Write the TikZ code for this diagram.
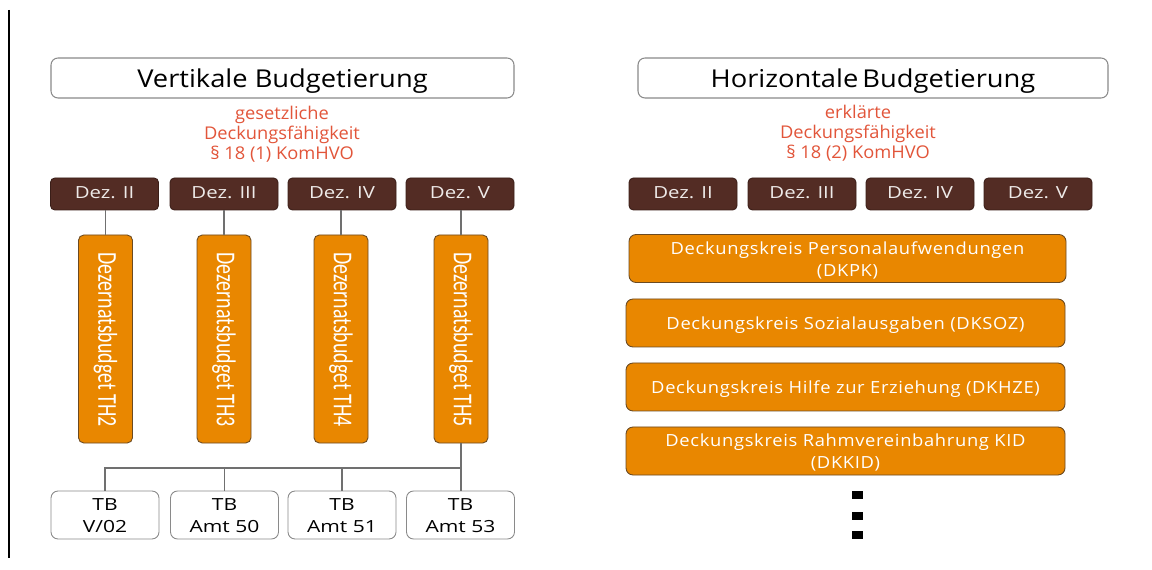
\documentclass[tikz,border=0pt]{standalone}
\usepackage{fontspec}
\setmainfont{Open Sans}
\newfontfamily\narrowfont{Carlito}
\newfontfamily\titlef[FakeStretch=1.11]{Open Sans}
\newfontfamily\redf[FakeStretch=1.04]{Open Sans}
\newfontfamily\dezf[FakeStretch=1.22]{Open Sans}
\newfontfamily\hf[FakeStretch=1.1,LetterSpace=4]{Open Sans}
\newfontfamily\tbf[FakeStretch=1.26]{Open Sans}
\usepackage{graphicx}
\newcommand\lowr[2]{\raisebox{-#1}[\height][\depth]{\begin{tabular}{@{}c@{}}#2\end{tabular}}}
\definecolor{dezbrown}{HTML}{532C24}
\definecolor{dezborder}{HTML}{3A1E18}
\definecolor{dezfont}{HTML}{EEEAE8}
\definecolor{orng}{HTML}{E98700}
\definecolor{orngborder}{HTML}{6B4A22}
\definecolor{redtext}{HTML}{E2553A}
\definecolor{framegray}{HTML}{8A8A8A}
\definecolor{linegray}{HTML}{707070}
\begin{document}
\begin{tikzpicture}[x=0.02cm,y=-0.02cm,
  titlebox/.style={draw=framegray,line width=0.6pt,rounded corners=4pt,fill=white,
    minimum width=#1*0.02cm,minimum height=40*0.02cm,inner sep=0pt,
    font=\titlef\fontsize{14}{16}\selectfont},
  dezbox/.style={draw=dezborder,line width=0.5pt,fill=dezbrown,text=dezfont,rounded corners=2.5pt,
    minimum width=108*0.02cm,minimum height=32*0.02cm,inner sep=0pt,
    font=\dezf\fontsize{9.5}{11}\selectfont},
  vbox/.style={draw=orngborder,line width=0.5pt,fill=orng,rounded corners=3pt,
    minimum width=54*0.02cm,minimum height=208*0.02cm,inner sep=0pt,text=white},
  hbox/.style={draw=orngborder,line width=0.5pt,fill=orng,rounded corners=4pt,text=white,
    minimum width=#1*0.02cm,minimum height=48*0.02cm,inner sep=0pt,
    font=\hf\fontsize{9.5}{12.5}\selectfont},
  tbbox/.style={draw=framegray,line width=0.5pt,fill=white,rounded corners=4pt,
    minimum width=108*0.02cm,minimum height=48*0.02cm,inner sep=0pt,
    font=\tbf\fontsize{9.5}{12.5}\selectfont},
  redlbl/.style={text=redtext,align=center,font=\redf\fontsize{10}{11.3}\selectfont},
  conn/.style={draw=linegray,line width=0.6pt},
  dotbox/.style={fill=black,minimum width=11*0.02cm,minimum height=8*0.02cm,inner sep=0pt}
]
\useasboundingbox[fill=white] (0,0) rectangle (1152,570);
\draw[black,line width=0.7pt] (9,10) -- (9,558);

% ---- left side ----
\node[titlebox=463] (tl) at (282.5,78) {\lowr{2.2pt}{Vertikale Budgetierung}};
\node[redlbl] (rl) at (282,134) {gesetzliche\\Deckungsfähigkeit\\§ 18 (1) KomHVO};

\node[dezbox] (dl1) at (104.5,194) {\lowr{0.6pt}{Dez. II}};
\node[dezbox] (dl2) at (224,194) {\lowr{0.6pt}{Dez. III}};
\node[dezbox] (dl3) at (342,194) {\lowr{0.6pt}{Dez. IV}};
\node[dezbox] (dl4) at (460,194) {\lowr{0.6pt}{Dez. V}};

\node[vbox] (v1) at (105.5,339) {};
\node[vbox] (v2) at (224,339) {};
\node[vbox] (v3) at (341,339) {};
\node[vbox] (v4) at (461,339) {};
\foreach \i/\t in {1/2,2/3,3/4,4/5}{
  \node[rotate=-90,text=white,inner sep=0pt,font=\narrowfont\fontsize{15.5}{16}\selectfont]
    (vt\i) at ([yshift=-0.5*0.02cm]v\i.center) {\scalebox{0.73}[1]{Dezernatsbudget TH\t}};
  \draw[conn] (v\i.north) -- (v\i.north |- dl\i.south);
}

\node[tbbox] (t1) at (105,515) {\lowr{1.3pt}{TB\\V/02}};
\node[tbbox] (t2) at (224.5,515) {\lowr{1.3pt}{TB\\Amt 50}};
\node[tbbox] (t3) at (342,515) {\lowr{1.3pt}{TB\\Amt 51}};
\node[tbbox] (t4) at (460.5,515) {\lowr{1.3pt}{TB\\Amt 53}};

\coordinate (bus) at (461,468);
\draw[conn] (v4.south) -- (v4.south |- t4.north);
\draw[conn] (t1.north) -- (t1.north |- bus) -- (bus);
\draw[conn] (t2.north) -- (t2.north |- bus);
\draw[conn] (t3.north) -- (t3.north |- bus);

% ---- right side ----
\node[titlebox=470] (tr) at (873,78) {\lowr{2.2pt}{Horizontale\,Budgetierung}};
\node[redlbl] (rr) at (858,133) {erklärte\\Deckungsfähigkeit\\§ 18 (2) KomHVO};

\node[dezbox] (dr1) at (683,194) {\lowr{0.6pt}{Dez. II}};
\node[dezbox] (dr2) at (802,194) {\lowr{0.6pt}{Dez. III}};
\node[dezbox] (dr3) at (920,194) {\lowr{0.6pt}{Dez. IV}};
\node[dezbox] (dr4) at (1038,194) {\lowr{0.6pt}{Dez. V}};

\node[hbox=437] (h1) at (847.5,258.5) {\lowr{1.3pt}{Deckungskreis Personalaufwendungen\\(DKPK)}};
\node[hbox=439] (h2) at (845.5,323) {\lowr{1.3pt}{Deckungskreis Sozialausgaben (DKSOZ)}};
\node[hbox=439] (h3) at (845.5,387) {\lowr{1.3pt}{Deckungskreis Hilfe zur Erziehung (DKHZE)}};
\node[hbox=439] (h4) at (845.5,451) {\lowr{1.3pt}{Deckungskreis Rahmvereinbahrung KID\\(DKKID)}};

\node[dotbox] (p1) at (857.5,495) {};
\node[dotbox] (p2) at (857.5,516) {};
\node[dotbox] (p3) at (857.5,535) {};
\end{tikzpicture}
\end{document}
